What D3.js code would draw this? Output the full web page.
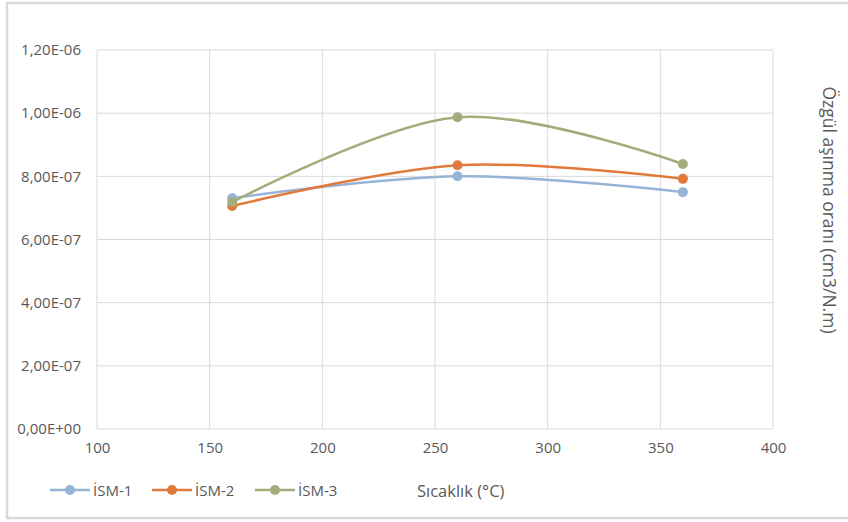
<!DOCTYPE html>
<html>
<head>
<meta charset="utf-8">
<script src="https://cdn.jsdelivr.net/npm/d3@7"></script>
<style>
  html, body { margin: 0; padding: 0; background: #ffffff; }
  svg { display: block; }
  text { font-family: "Open Sans", Lato, sans-serif; fill: #595959; }
</style>
</head>
<body>
<svg id="chart" width="848" height="522"></svg>
<script>
// Temperatures (°C) at which the specific wear rate was measured
const temperatures = [160, 260, 360];

// Specific wear rate (cm3/N.m) per sample
const ism1 = [7.31e-7, 8.00e-7, 7.50e-7];
const ism2 = [7.06e-7, 8.35e-7, 7.92e-7];
const ism3 = [7.18e-7, 9.87e-7, 8.39e-7];

const seriesNames = ["İSM-1", "İSM-2", "İSM-3"];
const seriesColors = ["#95b4d6", "#e07a3c", "#a3ad7b"];

const xTicks = [100, 150, 200, 250, 300, 350, 400];
const yTicks = [0, 2e-7, 4e-7, 6e-7, 8e-7, 1e-6, 1.2e-6];

const svg = d3.select("#chart");
const W = 848, H = 522;
const plot = { left: 97, right: 773, top: 50, bottom: 429 };

// Outer frame
svg.append("rect")
  .attr("x", 7).attr("y", 3)
  .attr("width", W + 10).attr("height", 515)
  .attr("fill", "#ffffff")
  .attr("stroke", "#d9d9d9")
  .attr("stroke-width", 2.5);

const x = d3.scaleLinear().domain([100, 400]).range([plot.left, plot.right]);
const y = d3.scaleLinear().domain([0, 1.2e-6]).range([plot.bottom, plot.top]);

// Excel-style scientific labels with decimal comma: 1,20E-06
function sciLabel(v) {
  if (v === 0) return "0,00E+00";
  const exp = Math.floor(Math.log10(v) + 1e-9);
  const mant = v / Math.pow(10, exp);
  const sign = exp < 0 ? "-" : "+";
  const e = String(Math.abs(exp)).padStart(2, "0");
  return mant.toFixed(2).replace(".", ",") + "E" + sign + e;
}

// Gridlines
const grid = svg.append("g");
grid.selectAll("line.h").data(yTicks).enter().append("line")
  .attr("x1", plot.left).attr("x2", plot.right)
  .attr("y1", d => y(d)).attr("y2", d => y(d))
  .attr("stroke", "#d9d9d9").attr("stroke-width", 1);
grid.selectAll("line.v").data(xTicks).enter().append("line")
  .attr("x1", d => x(d)).attr("x2", d => x(d))
  .attr("y1", plot.top).attr("y2", plot.bottom)
  .attr("stroke", "#d9d9d9").attr("stroke-width", 1);

// Axes (labels only; lines come from the gridlines)
const yAxis = svg.append("g")
  .attr("transform", `translate(${plot.left},0)`)
  .call(d3.axisLeft(y).tickValues(yTicks).tickFormat(sciLabel).tickSize(0).tickPadding(16));
yAxis.select(".domain").remove();
yAxis.selectAll("text").attr("font-size", 15).style("font-family", "'Open Sans', sans-serif").attr("fill", "#595959");

const xAxis = svg.append("g")
  .attr("transform", `translate(0,${plot.bottom})`)
  .call(d3.axisBottom(x).tickValues(xTicks).tickFormat(d3.format("d")).tickSize(0).tickPadding(13));
xAxis.select(".domain").remove();
xAxis.selectAll("text").attr("font-size", 15).style("font-family", "'Open Sans', sans-serif").attr("fill", "#595959");

// Series
const series = [ism1, ism2, ism3].map((vals, i) => ({
  name: seriesNames[i],
  color: seriesColors[i],
  points: temperatures.map((t, j) => ({ t, v: vals[j] }))
}));

const line = d3.line()
  .x(d => x(d.t)).y(d => y(d.v))
  .curve(d3.curveCardinal.tension(0));

const sg = svg.append("g").selectAll("g").data(series).enter().append("g");
sg.append("path")
  .attr("d", d => line(d.points))
  .attr("fill", "none")
  .attr("stroke", d => d.color)
  .attr("stroke-width", 2.5)
  .attr("stroke-linecap", "round");
sg.selectAll("circle").data(d => d.points.map(p => ({ ...p, color: d.color }))).enter()
  .append("circle")
  .attr("cx", d => x(d.t)).attr("cy", d => y(d.v))
  .attr("r", 5)
  .attr("fill", d => d.color);

// Legend
const legendX = [50, 152, 255];
const lg = svg.append("g").selectAll("g").data(series).enter().append("g")
  .attr("transform", (d, i) => `translate(${legendX[i]},490)`);
lg.append("line").attr("x1", 0).attr("x2", 40).attr("y1", 0).attr("y2", 0)
  .attr("stroke", d => d.color).attr("stroke-width", 2.5);
lg.append("circle").attr("cx", 20).attr("cy", 0).attr("r", 5).attr("fill", d => d.color);
lg.append("text").attr("x", 43).attr("y", 6).attr("font-size", 15).text(d => d.name);

// Axis titles
svg.append("text")
  .attr("x", 417).attr("y", 497)
  .attr("font-size", 16.5)
  .text("Sıcaklık (°C)");

svg.append("text")
  .attr("transform", "translate(823,210) rotate(90)")
  .attr("text-anchor", "middle")
  .attr("font-size", 17.5)
  .text("Özgül aşınma oranı (cm3/N.m)");
</script>
</body>
</html>
